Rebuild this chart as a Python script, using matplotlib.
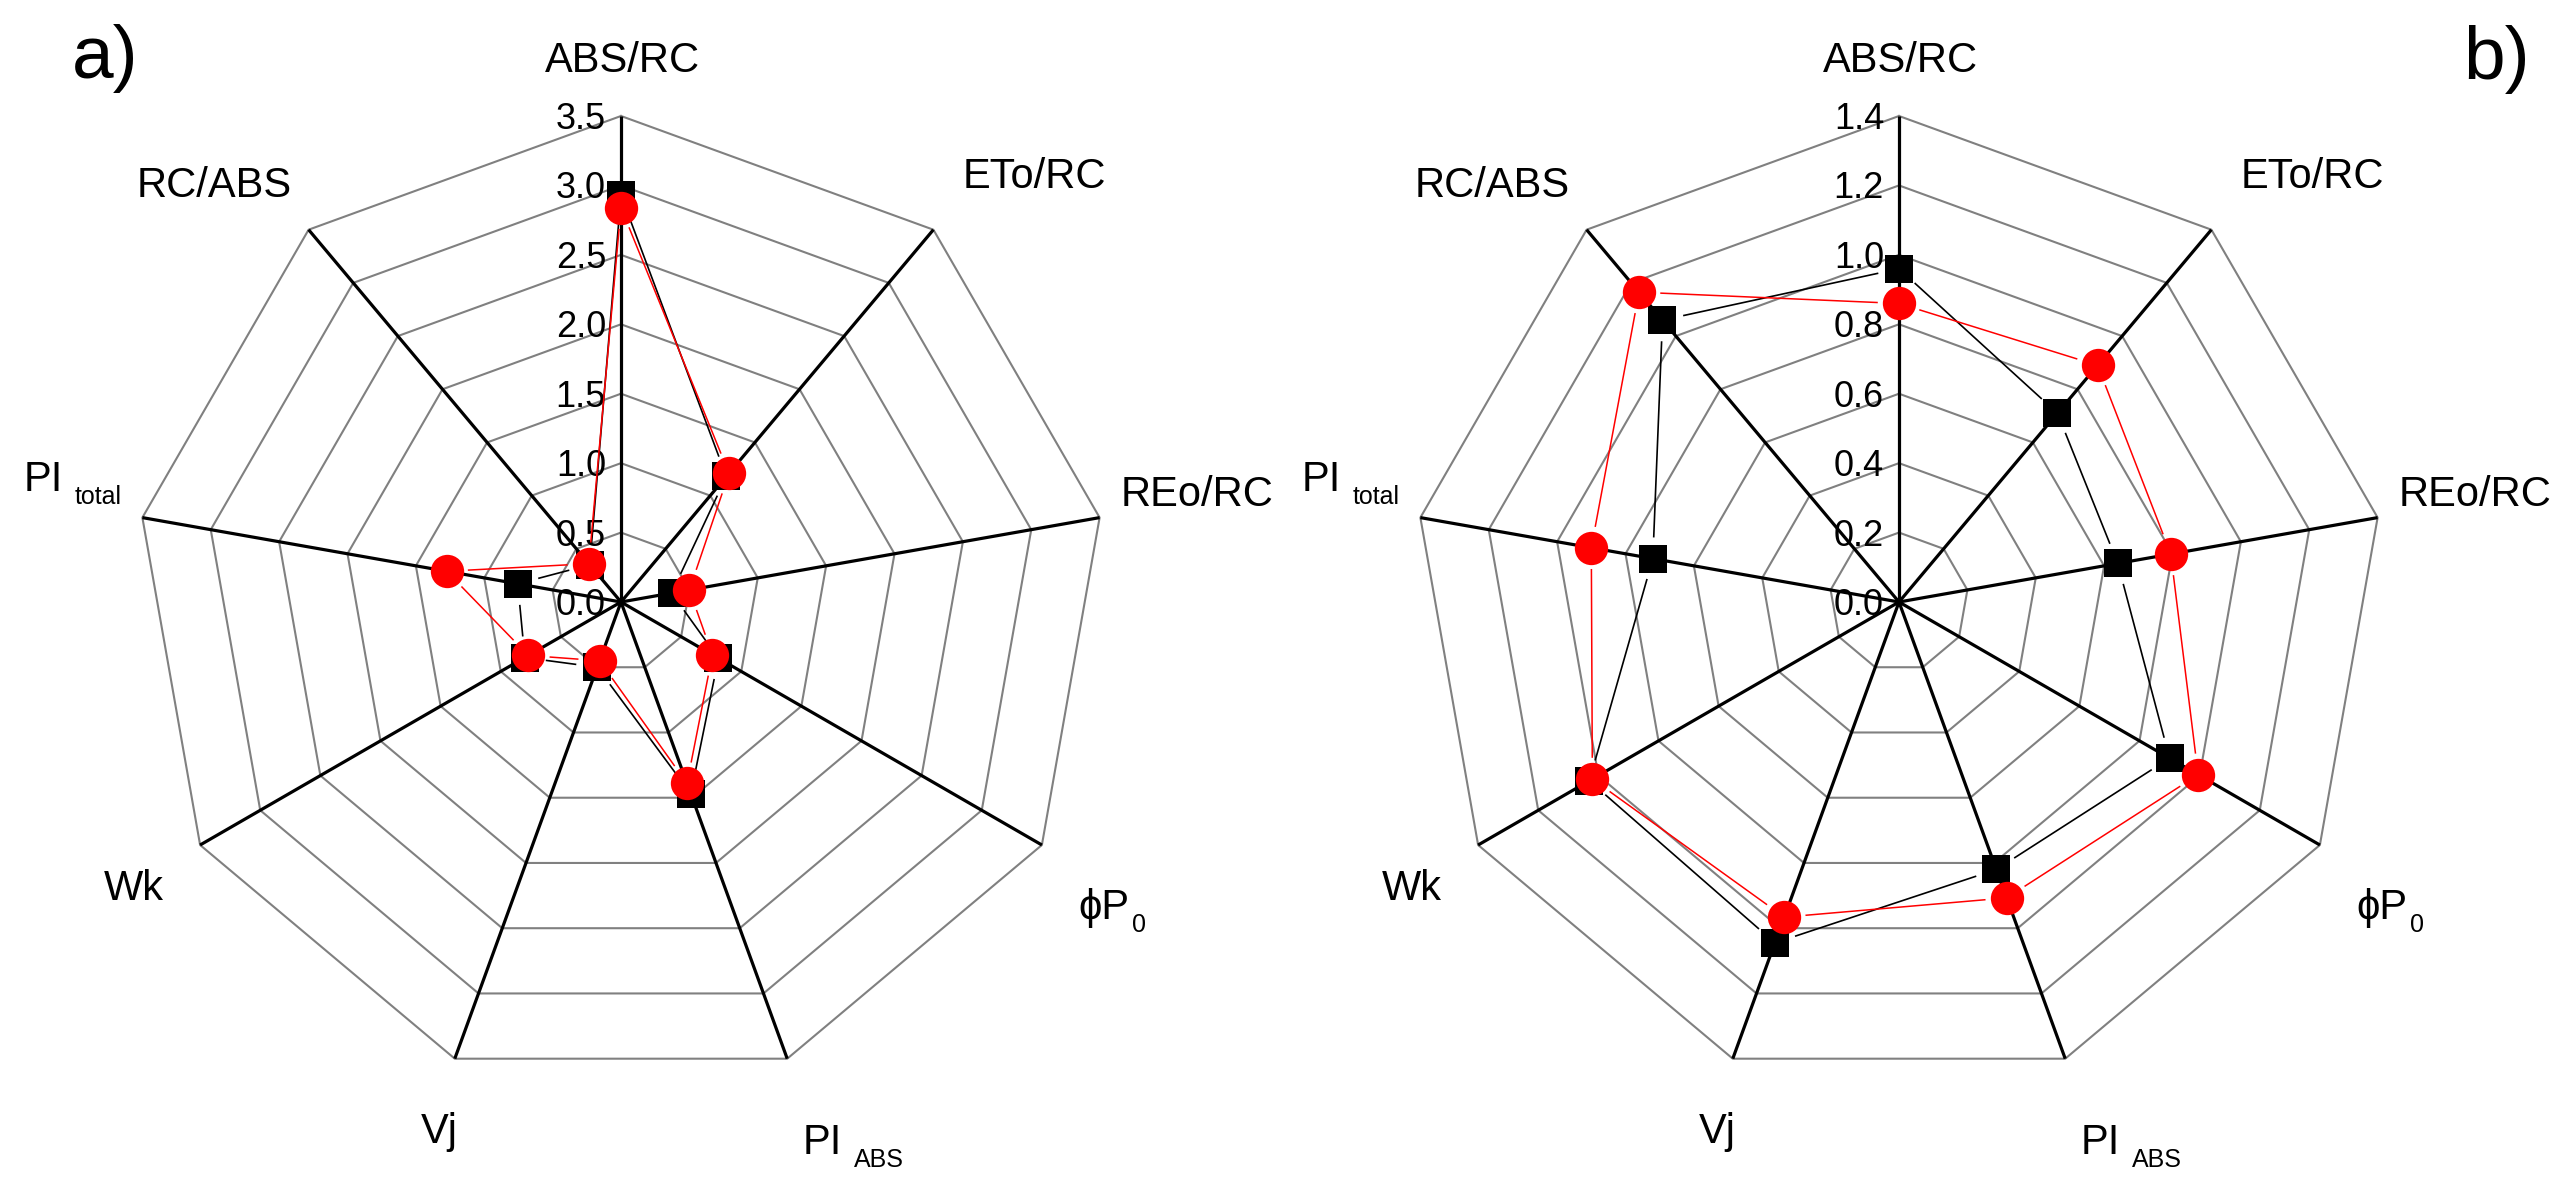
import numpy as np
import matplotlib.pyplot as plt

plt.rcParams['font.family'] = ['Liberation Sans', 'DejaVu Sans']

# axis names (main part + subscript), clockwise from the top
labels = ['ABS/RC', 'ETo/RC', 'REo/RC', 'ϕP', 'PI', 'Vj', 'Wk', 'PI', 'RC/ABS']
subscripts = ['', '', '', '0', 'ABS', '', '', 'total', '']

# panel a)
a_ticks = [0.0, 0.5, 1.0, 1.5, 2.0, 2.5, 3.0, 3.5]
a_squares = [2.93, 1.18, 0.37, 0.81, 1.47, 0.50, 0.80, 0.755, 0.35]
a_circles = [2.84, 1.21, 0.50, 0.76, 1.39, 0.45, 0.77, 1.275, 0.36]

# panel b)
b_ticks = [0.0, 0.2, 0.4, 0.6, 0.8, 1.0, 1.2, 1.4]
b_squares = [0.96, 0.71, 0.64, 0.90, 0.82, 1.045, 1.03, 0.72, 1.06]
b_circles = [0.86, 0.89, 0.795, 0.995, 0.907, 0.966, 1.02, 0.90, 1.165]

W, H = 2573, 1179
R_PX = 486          # radius of the outer ring in pixels
GAP_PX = 22         # data lines stop short of the markers
# label positions relative to the centre (pixels, x right, y down; cap centre)
LABEL_OFF = [(1, -545), (413, -429), (576, -111), (483, 302), (201, 537),
             (-182, 526), (-487, 283), (-578, -126), (-407, -420)]

fig = plt.figure(figsize=(W / 100, H / 100), dpi=100)
n = len(labels)
theta = np.arange(n) * 2 * np.pi / n


def gapped(vals, gap):
    """Polygon through the values, each segment shortened at both ends."""
    r = np.append(vals, vals[0])
    t = np.append(theta, theta[0])
    x, y = r * np.sin(t), r * np.cos(t)
    xs, ys = [], []
    for i in range(n):
        dx, dy = x[i + 1] - x[i], y[i + 1] - y[i]
        d = np.hypot(dx, dy)
        if d > 2 * gap:
            f = gap / d
            xs += [x[i] + f * dx, x[i + 1] - f * dx, np.nan]
            ys += [y[i] + f * dy, y[i + 1] - f * dy, np.nan]
    xs, ys = np.array(xs), np.array(ys)
    return np.arctan2(xs, ys), np.hypot(xs, ys)


def radar(cx, cy, ticks, squares, circles):
    rect = [(cx - R_PX) / W, (H - cy - R_PX) / H, 2 * R_PX / W, 2 * R_PX / H]
    ax = fig.add_axes(rect, projection='polar')
    ax.set_theta_zero_location('N')
    ax.set_theta_direction(-1)
    rmax = ticks[-1]
    ax.set_ylim(0, rmax)
    ax.set_xticks([])
    ax.set_yticks([])
    ax.grid(False)
    ax.spines['polar'].set_visible(False)
    ax.patch.set_visible(False)

    ring_t = np.append(theta, theta[0])
    for t in ticks[1:]:
        ax.plot(ring_t, [t] * (n + 1), color='#808080', lw=1.5, zorder=1, clip_on=False)
    for th in theta:
        ax.plot([th, th], [0, rmax], color='black', lw=2.3, zorder=2,
                solid_capstyle='butt', clip_on=False)

    for t in ticks:
        ax.annotate(f'{t:.1f}', xy=(0, t), xytext=(-15, -13), textcoords='offset pixels',
                    ha='right', va='baseline', fontsize=26, zorder=3)

    gap = GAP_PX / R_PX * rmax
    t, r = gapped(squares, gap)
    ax.plot(t, r, color='black', lw=1.2, zorder=4, clip_on=False)
    t, r = gapped(circles, gap)
    ax.plot(t, r, color='#ff0000', lw=1.1, zorder=5, clip_on=False)
    ax.plot(theta, squares, 's', color='black', ms=19.5, mew=0, zorder=6, clip_on=False)
    ax.plot(theta, circles, 'o', color='#ff0000', ms=24, mew=0, zorder=7, clip_on=False)

    for lab, sub, (dx, dy) in zip(labels, subscripts, LABEL_OFF):
        txt = ax.annotate(lab, xy=(0, 0), xytext=(dx, -(dy + 15)), textcoords='offset pixels',
                          ha='center', va='baseline', fontsize=30)
        if sub:
            ax.annotate(sub, xy=(1, 0), xycoords=txt, xytext=(12 if sub != '0' else 2, -4),
                        textcoords='offset pixels', ha='left', va='baseline', fontsize=18)
    return ax


radar(621, 602, a_ticks, a_squares, a_circles)
radar(1899, 602, b_ticks, b_squares, b_circles)

fig.text(72 / W, 1 - 78 / H, 'a)', fontsize=54, ha='left', va='baseline')
fig.text(2463 / W, 1 - 79 / H, 'b)', fontsize=54, ha='left', va='baseline')

fig.savefig('out.png', dpi=100, facecolor='white')
